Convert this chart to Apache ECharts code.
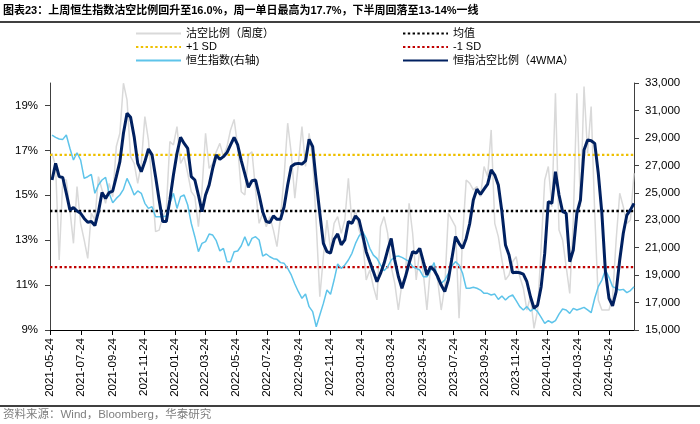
<!DOCTYPE html>
<html><head><meta charset="utf-8">
<script src="https://cdn.jsdelivr.net/npm/echarts@6/dist/echarts.min.js"></script>
<style>html,body{margin:0;padding:0;background:#fff}#c{width:700px;height:424px}</style>
</head><body><div id="c"></div>
<script>
const axisStart = '2021-05-24';
const axisEnd = '2024-07-12';
const firstWeek = '2021-05-28';
const tickLabels = ['2021-05-24','2021-07-24','2021-09-24','2021-11-24','2022-01-24','2022-03-24','2022-05-24','2022-07-24','2022-09-24','2022-11-24','2023-01-24','2023-03-24','2023-05-24','2023-07-24','2023-09-24','2023-11-24','2024-01-24','2024-03-24','2024-05-24'];
const leftTicks = [9, 11, 13, 15, 17, 19];
const meanValue = 14.3;
const sdValue = 2.5;

// 沽空比例（周度）, %
const shortWeekly = [16.87,16.28,12.12,15.68,15.68,14.35,12.86,15.39,13.75,13.01,
12.19,14.20,13.90,15.83,15.24,14.64,15.53,14.94,17.17,17.76,
19.99,19.25,16.72,16.42,15.53,16.42,18.50,17.46,15.53,13.38,
13.45,14.05,14.35,17.39,17.24,18.06,16.42,16.72,15.98,15.16,
14.94,13.60,15.24,17.76,16.20,16.42,16.94,17.31,16.72,17.17,
17.91,18.38,17.17,15.16,15.01,16.80,16.94,15.24,13.75,14.20,
13.60,14.05,13.45,12.71,14.05,15.83,18.21,16.87,14.87,16.42,
18.06,16.28,17.76,16.57,13.75,10.48,12.27,13.90,12.56,13.75,
14.05,13.31,13.90,15.76,13.75,14.35,13.45,13.01,11.23,11.67,
10.93,10.34,13.60,14.05,13.31,11.82,11.08,9.89,11.08,11.38,
14.64,13.31,11.23,12.56,11.52,9.89,11.82,11.82,11.23,9.89,
10.93,14.20,13.90,13.60,9.52,13.16,15.68,15.53,15.24,15.39,
14.94,16.28,15.83,17.91,13.75,13.16,12.12,11.23,11.45,12.04,
12.27,11.38,10.86,9.89,10.48,9.07,9.89,12.71,15.68,16.28,
14.49,19.54,13.45,13.01,11.82,10.63,13.90,19.54,14.49,19.84,
16.87,18.95,14.20,10.34,9.89,9.89,9.89,10.48,13.01,15.09,
14.49,13.75,13.90,15.98];

// 恒指沽空比例（4WMA）, %
const short4w = [15.68,16.42,15.83,15.79,15.09,14.35,14.45,14.30,14.20,13.97,
13.80,13.83,13.65,14.27,15.12,14.86,15.12,15.19,15.83,16.50,
17.76,18.65,18.47,17.61,16.42,16.05,16.50,17.06,16.80,15.83,
14.79,13.83,13.83,14.79,15.90,16.87,17.58,17.31,17.09,15.83,
15.68,15.01,14.27,15.01,15.46,16.20,16.80,16.60,16.72,16.90,
17.24,17.58,17.24,16.54,15.95,15.35,15.65,15.68,15.01,14.27,
13.83,13.78,14.08,13.93,13.93,14.49,15.46,16.28,16.39,16.42,
16.39,16.53,17.49,17.17,15.61,14.20,12.86,12.49,12.42,13.04,
13.28,12.79,13.01,13.83,13.75,14.08,13.90,13.23,12.49,12.04,
11.60,11.15,11.52,11.97,12.56,13.08,12.12,11.38,10.86,11.38,
11.97,12.49,12.42,12.64,12.04,11.45,11.82,11.67,11.38,11.00,
10.71,11.23,12.19,13.16,12.86,12.64,13.08,13.75,14.79,15.27,
15.04,15.27,15.50,16.13,15.90,15.46,14.27,12.79,12.34,11.55,
11.57,11.55,11.49,11.15,10.48,9.97,10.11,10.93,12.42,14.72,
14.64,16.05,15.01,14.27,14.20,12.04,12.56,14.20,14.79,17.02,
17.46,17.43,17.31,15.98,14.20,11.60,10.41,10.07,10.71,12.12,
13.31,14.12,14.35,14.64];

// 恒生指数(右轴)
const hsi = [29210,29040,28920,28890,29210,28240,27390,27920,27390,26050,
26170,26340,24960,25570,25930,26120,24960,24280,24590,24840,
25250,26050,25490,24840,25130,24960,24230,23860,23990,23260,
23260,23260,23310,24230,24960,23860,24720,24840,24110,22770,
21800,20710,21310,21440,21990,21920,21510,20760,20950,19980,
19980,20710,20760,21140,21800,21120,21680,21800,21560,20390,
20540,20340,20200,20150,19910,19860,19490,19010,18350,17790,
17310,17620,16700,16340,15240,16090,16940,17910,17600,18640,
19810,19490,19740,20100,20590,21310,21850,22170,21680,20950,
20460,20220,19740,19320,19610,20100,20340,20390,20290,20150,
19980,19610,19490,19370,18880,18880,19320,19910,18690,18400,
18640,19130,19660,19980,19740,19130,18040,18040,18110,18040,
17910,17670,17670,17550,17620,17230,17480,17190,17430,17550,
17140,16700,16460,16700,16380,16580,16340,15920,15490,15680,
15530,15680,16160,16530,16460,16210,16580,16460,16550,16650,
16460,16260,17310,18160,18640,19370,18840,18160,18040,17910,
17960,17720,17870,18160];

const DAY = 86400000;
const dayOffset = s => Math.round((Date.parse(s) - Date.parse(axisStart)) / DAY);
const weekX = shortWeekly.map((_, i) => dayOffset(firstWeek) + 7 * i);
const tickDays = tickLabels.map(dayOffset);
const xMax = dayOffset(axisEnd);
const pair = arr => arr.map((v, i) => [weekX[i], v]);
const flat = v => [[0, v], [xMax, v]];

const FONT = '"Liberation Sans", Arial, "Noto Sans CJK SC", sans-serif';
const CJK = '"Liberation Sans", "Noto Sans CJK SC", sans-serif';
const dot = [2.4, 2.4];

const legendBase = {
  top: 23, orient: 'vertical', itemGap: 2.5, itemWidth: 45, itemHeight: 12,
  itemStyle: {opacity: 0},
  textStyle: {fontSize: 11, color: '#000', fontFamily: CJK}
};

const chart = echarts.init(document.getElementById('c'), null, {renderer: 'canvas'});
chart.setOption({
  animation: false,
  backgroundColor: '#fff',
  title: {
    text: '图表23：上周恒生指数沽空比例回升至16.0%，周一单日最高为17.7%，下半周回落至13-14%一线',
    left: 3, top: 5, padding: 0,
    textStyle: {fontSize: 11, fontWeight: 'bold', color: '#000', fontFamily: CJK}
  },
  graphic: [
    {type: 'line', shape: {x1: 0, y1: 22, x2: 700, y2: 22}, style: {stroke: '#000', lineWidth: 1.5}},
    {type: 'line', shape: {x1: 0, y1: 406, x2: 700, y2: 406}, style: {stroke: '#000', lineWidth: 1.5}},
    {type: 'text', left: 3, top: 409, style: {text: '资料来源：Wind，Bloomberg，华泰研究', fill: '#7f7f7f', font: '11.5px ' + CJK}}
  ],
  legend: [
    Object.assign({left: 130, data: ['沽空比例（周度）', '+1 SD', '恒生指数(右轴)']}, legendBase),
    Object.assign({left: 397, data: ['均值', '-1 SD', '恒指沽空比例（4WMA）']}, legendBase)
  ],
  grid: {left: 50, right: 66, top: 83, bottom: 94, containLabel: false},
  xAxis: {
    type: 'value', min: 0, max: xMax,
    splitLine: {show: false},
    axisLine: {lineStyle: {color: '#000', width: 1}},
    axisTick: {show: true, length: 5, customValues: tickDays, lineStyle: {color: '#000'}},
    axisLabel: {
      customValues: tickDays, rotate: 90, margin: 8, fontSize: 11.5, color: '#000', fontFamily: FONT,
      formatter: v => { const k = tickDays.indexOf(Math.round(v)); return k >= 0 ? tickLabels[k] : ''; }
    }
  },
  yAxis: [
    {
      type: 'value', min: 9, max: 20, position: 'left',
      splitLine: {show: false},
      axisLine: {show: true, lineStyle: {color: '#404040'}},
      axisTick: {show: true, length: 5, customValues: leftTicks, lineStyle: {color: '#404040'}},
      axisLabel: {customValues: leftTicks, margin: 12, fontSize: 11.5, color: '#000', fontFamily: FONT,
                  formatter: v => v + '%'}
    },
    {
      type: 'value', min: 15000, max: 33000, interval: 2000, position: 'right',
      splitLine: {show: false},
      axisLine: {show: true, lineStyle: {color: '#404040'}},
      axisTick: {show: true, length: 5, lineStyle: {color: '#404040'}},
      axisLabel: {margin: 11, fontSize: 11.5, color: '#000', fontFamily: FONT,
                  formatter: v => v.toLocaleString('en-US')}
    }
  ],
  series: [
    {name: '沽空比例（周度）', type: 'line', yAxisIndex: 0, data: pair(shortWeekly), symbol: 'none',
     lineStyle: {color: '#D9D9D9', width: 1.5}, itemStyle: {color: '#D9D9D9'}, z: 1},
    {name: '均值', type: 'line', yAxisIndex: 0, data: flat(meanValue), symbol: 'none',
     lineStyle: {color: '#000', width: 2.4, type: dot}, itemStyle: {color: '#000'}, z: 2},
    {name: '+1 SD', type: 'line', yAxisIndex: 0, data: flat(meanValue + sdValue), symbol: 'none',
     lineStyle: {color: '#EEC000', width: 2.4, type: dot}, itemStyle: {color: '#EEC000'}, z: 2},
    {name: '-1 SD', type: 'line', yAxisIndex: 0, data: flat(meanValue - sdValue), symbol: 'none',
     lineStyle: {color: '#C00000', width: 2.4, type: dot}, itemStyle: {color: '#C00000'}, z: 2},
    {name: '恒生指数(右轴)', type: 'line', yAxisIndex: 1, data: pair(hsi), symbol: 'none',
     lineStyle: {color: '#5EC4EA', width: 1.5}, itemStyle: {color: '#5EC4EA'}, z: 3},
    {name: '恒指沽空比例（4WMA）', type: 'line', yAxisIndex: 0, data: pair(short4w), symbol: 'none',
     lineStyle: {color: '#002060', width: 3}, itemStyle: {color: '#002060'}, z: 4}
  ]
});
</script></body></html>
